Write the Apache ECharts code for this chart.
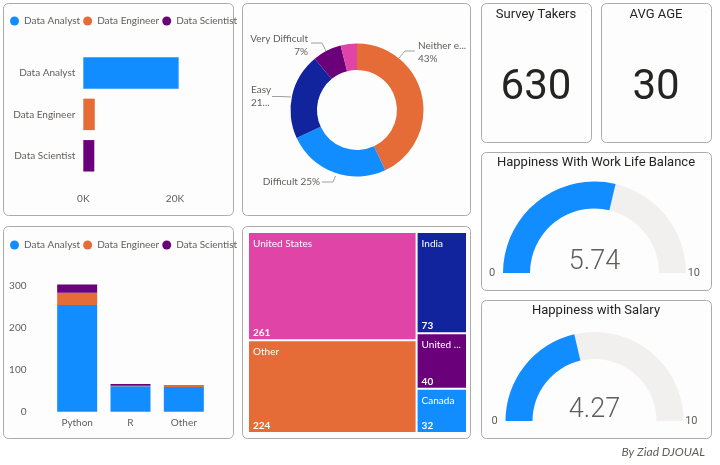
<!DOCTYPE html>
<html>
<head>
<meta charset="utf-8">
<script src="https://cdn.jsdelivr.net/npm/echarts@6/dist/echarts.min.js"></script>
<style>
html,body{margin:0;padding:0;background:#ffffff;}
#c{width:720px;height:465px;}
</style>
</head>
<body>
<div id="c"></div>
<script>
// ---- data ----
const roles = ['Data Analyst', 'Data Engineer', 'Data Scientist'];
const roleTotals = [20800, 2500, 2400];

const languages = ['Python', 'R', 'Other'];
const langAnalyst = [255, 61, 59];
const langEngineer = [29, 1, 4];
const langScientist = [20, 4, 1];

const difficulty = ['Neither easy nor difficult', 'Difficult', 'Easy', 'Very Difficult', 'Very Easy'];
const difficultyCounts = [271, 158, 132, 44, 25];

const countries = ['United States', 'Other', 'India', 'United Kingdom', 'Canada'];
const countryCounts = [261, 224, 73, 40, 32];

const surveyTakers = 630;
const avgAge = 30;
const happinessWorkLife = 5.74;
const happinessSalary = 4.27;
const gaugeMin = 0, gaugeMax = 10;

// ---- styles ----
const roleColors = ['#118DFF', '#E66C37', '#6B007B'];
const pieColors = ['#E66C37', '#118DFF', '#12239E', '#6B007B', '#E044A7'];
const treeColors = ['#E044A7', '#E66C37', '#12239E', '#6B007B', '#118DFF'];
const txt = '#605E5C';
const uiFont = 'Lato, "Noto Sans", sans-serif';
const dinFont = 'Roboto, "Noto Sans", sans-serif';

const chart = echarts.init(document.getElementById('c'), null, {renderer: 'canvas'});

function panel(x, y, w, h) {
  return {type: 'rect', z: -10, silent: true,
    shape: {x: x + 0.5, y: y + 0.5, width: w, height: h, r: 5},
    style: {fill: '#FDFDFD', stroke: '#ABABAB', lineWidth: 1}};
}
function label(text, x, y, size, opts) {
  return Object.assign({type: 'text', z: 10, silent: true, x: x, y: y,
    style: {text: text, fill: '#252423', font: size + 'px ' + dinFont, textAlign: 'center', textVerticalAlign: 'middle'}}, opts || {});
}

const roleSeries = roles.map((r, i) => ({
  type: 'bar', name: r, xAxisIndex: 0, yAxisIndex: 0, stack: 'roles',
  barCategoryGap: '24%',
  itemStyle: {color: roleColors[i]},
  data: roles.map((c, j) => j === i ? roleTotals[i] : '-')
}));

const langData = [langAnalyst, langEngineer, langScientist];
const langSeries = roles.map((r, i) => ({
  type: 'bar', name: r, xAxisIndex: 1, yAxisIndex: 1, stack: 'lang',
  barCategoryGap: '25%',
  itemStyle: {color: roleColors[i]},
  data: langData[i]
}));

const pieLabelFmt = ['Neither e...\n{d}%', '{b} {d}%', '{b}\n21...', '{b}\n{d}%', ''];
const pieData = difficulty.map((n, i) => ({
  name: n, value: difficultyCounts[i],
  itemStyle: {color: pieColors[i]},
  label: {show: i < 4, formatter: pieLabelFmt[i]},
  labelLine: {show: i < 4}
}));
// label placement (Power BI style), by slice index
const pieLabelPlace = [
  {x: 418, y: 52, align: 'left', line: [[399, 58], [405, 51], [415, 51]]},
  {x: 320, y: 182, align: 'right', line: [[335.5, 176], [333, 182], [322, 182]]},
  {x: 251, y: 96, align: 'left', line: [[291, 97], [282, 96.5], [272, 96.5]]},
  {x: 308, y: 45, align: 'right', line: [[326, 51], [322, 43], [311, 43]]}
];

const treeData = countries.map((n, i) => ({name: n, value: countryCounts[i], itemStyle: {color: treeColors[i]}}));
const treeDataOverlay = countries.map((n, i) => ({name: n, value: countryCounts[i], itemStyle: {color: 'rgba(0,0,0,0)'}}));

function gauge(value, cy, r) {
  return {
    type: 'gauge', center: [594.5, cy], radius: r,
    startAngle: 180, endAngle: 0, min: gaugeMin, max: gaugeMax, splitNumber: 1,
    axisLine: {lineStyle: {width: 27, color: [[1, '#F1F0EF']]}},
    progress: {show: true, width: 27, roundCap: false, itemStyle: {color: '#118DFF'}},
    pointer: {show: false}, anchor: {show: false},
    axisTick: {show: false},
    splitLine: {show: false, length: 0, distance: 0},
    axisLabel: {distance: -14, color: txt, fontSize: 11, fontFamily: dinFont},
    title: {show: false},
    detail: {offsetCenter: [0, -11], fontSize: 27, fontWeight: 300, color: txt, fontFamily: dinFont,
      formatter: v => v.toFixed(2)},
    data: [{value: value}],
    animation: false
  };
}

const legendBase = {left: 10, padding: 0, icon: 'circle', itemWidth: 9, itemHeight: 9, itemGap: 3,
  data: roles, textStyle: {color: txt, fontSize: 10}};

const option = {
  animation: false,
  textStyle: {fontFamily: uiFont},
  graphic: [
    panel(3, 3, 230, 212),
    panel(242, 3, 228, 212),
    panel(3, 226, 230, 212),
    panel(242, 226, 228, 212),
    panel(481, 3, 110, 139),
    panel(601, 3, 110, 139),
    panel(481, 152, 230, 138),
    panel(481, 300, 230, 138),
    label('Survey Takers', 536, 15, 13),
    label(String(surveyTakers), 536, 88, 42),
    label('AVG AGE', 656, 15, 13),
    label(String(avgAge), 656, 88, 42),
    label('Happiness With Work Life Balance', 596, 163, 13),
    label('Happiness with Salary', 596, 311, 13),
    {type: 'text', z: 10, silent: true, x: 705, y: 452,
      style: {text: 'By Ziad DJOUAL', fill: txt, font: 'italic 12px ' + uiFont, textAlign: 'right', textVerticalAlign: 'middle'}}
  ],
  legend: [
    Object.assign({top: 16}, legendBase),
    Object.assign({top: 240}, legendBase)
  ],
  grid: [
    {left: 83.3, top: 52.3, width: 114.6, height: 124.2},
    {left: 50.5, top: 277.7, width: 160, height: 134}
  ],
  xAxis: [
    {type: 'value', gridIndex: 0, min: 0, max: 25000, interval: 20000,
      axisLine: {show: false}, axisTick: {show: false}, splitLine: {show: false},
      axisLabel: {color: txt, fontSize: 10, margin: 17, showMaxLabel: false, formatter: v => (v / 1000) + 'K'}},
    {type: 'category', gridIndex: 1, data: languages,
      axisLine: {show: false}, axisTick: {show: false},
      axisLabel: {color: txt, fontSize: 10, margin: 6}}
  ],
  yAxis: [
    {type: 'category', gridIndex: 0, data: roles, inverse: true,
      axisLine: {show: false}, axisTick: {show: false},
      axisLabel: {color: txt, fontSize: 10, margin: 8}},
    {type: 'value', gridIndex: 1, min: 0, max: 320, interval: 100,
      axisLine: {show: false}, axisTick: {show: false}, splitLine: {show: false},
      axisLabel: {color: txt, fontSize: 10, margin: 24, showMaxLabel: false}}
  ],
  series: [
    ...roleSeries,
    ...langSeries,
    {type: 'pie', center: [357, 110], radius: [40, 66.5], startAngle: 90, clockwise: true,
      percentPrecision: 0, avoidLabelOverlap: false,
      label: {color: txt, fontSize: 10, lineHeight: 13},
      labelLine: {length: 8, length2: 12, lineStyle: {color: '#A0A0A0', width: 1}},
      labelLayout: p => {
        const o = pieLabelPlace[p.dataIndex];
        if (!o) return {};
        return {x: o.x, y: o.y, align: o.align, verticalAlign: 'middle', labelLinePoints: o.line};
      },
      itemStyle: {borderWidth: 0},
      data: pieData},
    {type: 'treemap', left: 249, top: 233, width: 217, height: 199,
      roam: false, nodeClick: false, breadcrumb: {show: false},
      levels: [{itemStyle: {gapWidth: 2, borderWidth: 0}}],
      label: {show: true, position: 'insideTopLeft', distance: 0, padding: [6, 0, 0, 4], color: '#fff', fontSize: 10,
        overflow: 'truncate', ellipsis: ' ...', formatter: '{b}'},
      data: treeData},
    {type: 'treemap', left: 249, top: 233, width: 217, height: 199, silent: true,
      roam: false, nodeClick: false, breadcrumb: {show: false},
      levels: [{itemStyle: {gapWidth: 2, borderWidth: 0}}],
      label: {show: true, position: 'insideBottomLeft', distance: 0, padding: [0, 0, 1, 4], color: '#fff', fontSize: 10, fontWeight: 'bold',
        formatter: '{c}'},
      data: treeDataOverlay},
    gauge(happinessWorkLife, 273, 91.5),
    gauge(happinessSalary, 421, 89)
  ]
};
chart.setOption(option);
</script>
</body>
</html>
